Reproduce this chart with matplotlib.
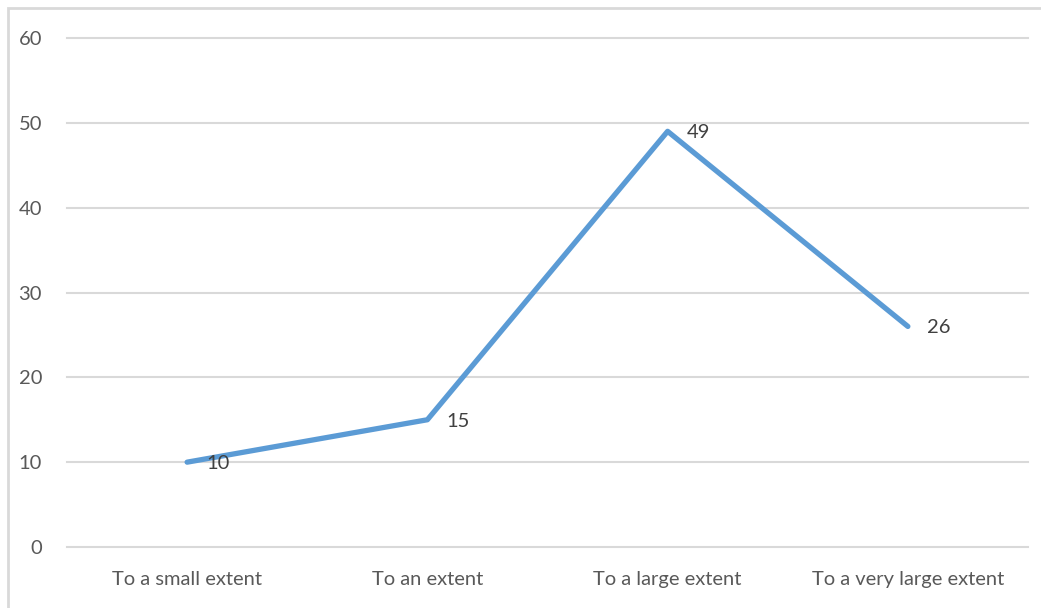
import matplotlib
matplotlib.use("Agg")
import matplotlib.pyplot as plt
from matplotlib.patches import Rectangle

categories = ["To a small extent", "To an extent", "To a large extent", "To a very large extent"]
values = [10, 15, 49, 26]
yticks = [0, 10, 20, 30, 40, 50, 60]

plt.rcParams['font.family'] = ['Lato', 'DejaVu Sans']

fig = plt.figure(figsize=(10.41, 6.08), dpi=100)
ax = fig.add_axes([67/1041, 1-547/608, (1028-67)/1041, (547-38)/608])

x = list(range(len(categories)))
ax.plot(x, values, color="#5B9BD5", linewidth=3.8, solid_capstyle="round", zorder=3)
for xi, v in zip(x, values):
    ax.annotate(str(v), (xi, v), xytext=(14, -1), textcoords="offset points",
                ha="left", va="center", fontsize=14.5, color="#404040", zorder=4)

ax.set_xlim(-0.5, 3.5)
ax.set_ylim(0, 60)
ax.set_yticks(yticks)
ax.set_xticks(x)
ax.set_xticklabels(categories)
ax.grid(axis="y", color="#D9D9D9", linewidth=1.5)
for gl in ax.get_ygridlines():
    gl.set_clip_on(False)
ax.set_axisbelow(True)
for s in ax.spines.values():
    s.set_visible(False)
ax.tick_params(axis="both", length=0, labelsize=14.5, labelcolor="#595959")
ax.tick_params(axis="y", pad=18)
ax.tick_params(axis="x", pad=17)

fig.patches.append(Rectangle((8/1041, -0.1), 1.2, 1-8/608+0.1, transform=fig.transFigure,
                             fill=False, edgecolor="#D9D9D9", linewidth=2))

fig.savefig("out.png", dpi=100)
